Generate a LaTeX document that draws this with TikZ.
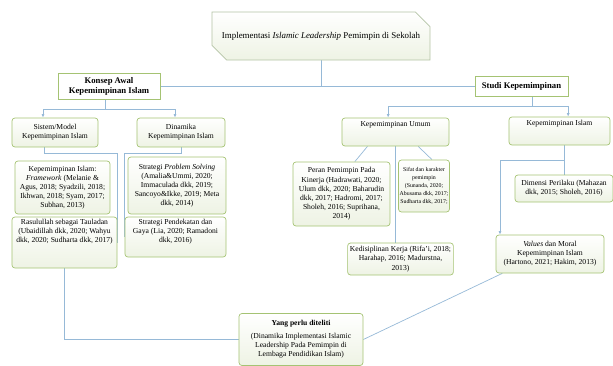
\documentclass[tikz,border=0pt]{standalone}
\usepackage{fontspec}
\setmainfont{Liberation Serif}
\usepackage{xcolor}
\usetikzlibrary{arrows.meta,shapes.misc,backgrounds,calc}
\definecolor{hijau}{RGB}{165,195,115}
\definecolor{isihijau}{RGB}{238,243,228}
\definecolor{abuhijau}{RGB}{180,195,165}
\definecolor{birugaris}{RGB}{150,185,215}
\newcommand{\atas}[3]{\parbox[c][#1][t]{#2}{\centering #3}}
\begin{document}
\begin{tikzpicture}[x=0.03cm,y=-0.03cm]
        \tikzset{kotak/.style={draw=hijau,line width=0.6pt,rounded corners=2.5pt,
                top color=white,bottom color=isihijau,align=center,inner sep=2pt,
                font=\fontsize{6.5}{7.8}\selectfont},
            judul/.style={draw=hijau,line width=0.6pt,fill=white,align=center,
                font=\fontsize{7.4}{8.6}\selectfont\bfseries},
            garis/.style={draw=birugaris,line width=0.6pt},
            panah/.style={garis,-{Latex[length=3pt,width=2.6pt]}}}
        \useasboundingbox (0,0) rectangle (613,366);
        \node[kotak,sharp corners,draw=abuhijau,chamfered rectangle,
            chamfered rectangle corners={north east,south west},
            chamfered rectangle xsep=0.25cm,chamfered rectangle ysep=0.25cm,
            minimum width=6.54cm,minimum height=1.44cm,
            font=\fontsize{7.6}{9}\selectfont] (utama) at (321,36)
            {Implementasi \textit{Islamic Leadership} Pemimpin di Sekolah};
        \node[judul,minimum width=3.06cm,minimum height=0.75cm] (konsep) at (109,86)
            {Konsep Awal\\Kepemimpinan Islam};
        \node[judul,minimum width=2.79cm,minimum height=0.6cm] (studi) at (521.5,86)
            {Studi Kepemimpinan};
        \node[kotak,minimum width=2.58cm,minimum height=0.87cm] (sistem) at (55,132.5)
            {Sistem/Model\\Kepemimpinan Islam};
        \node[kotak,minimum width=2.64cm,minimum height=0.87cm] (dinamika) at (181,132.5)
            {Dinamika\\Kepemimpinan Islam};
        \node[kotak] (umum) at (395.5,132)
            {\atas{0.70cm}{3.07cm}{\vspace{1pt}Kepemimpinan Umum}};
        \node[kotak] (islam) at (559.5,131)
            {\atas{0.70cm}{2.89cm}{\vspace{1pt}Kepemimpinan Islam}};
        \node[kotak,minimum width=2.85cm,minimum height=1.59cm] (framework) at (62.5,187.5)
            {Kepemimpinan Islam:\\\textit{Framework} (Melanie \&\\Agus, 2018; Syadzili, 2018;\\Ikhwan, 2018; Syam, 2017;\\Subhan, 2013)};
        \node[kotak] (rasul) at (64.5,242.5)
            {\atas{1.39cm}{3.01cm}{Rasulullah sebagai Tauladan\\(Ubaidillah dkk, 2020; Wahyu\\dkk, 2020; Sudharta dkk, 2017)}};
        \node[kotak,minimum width=2.94cm,minimum height=1.71cm] (problem) at (177,185.5)
            {Strategi \textit{Problem Solving}\\(Amalia\&Ummi, 2020;\\Immaculada dkk, 2019;\\Sancoyo\&Ikke, 2019; Meta\\dkk, 2014)};
        \node[kotak] (pendekatan) at (175.5,237)
            {\atas{1.06cm}{2.89cm}{Strategi Pendekatan dan\\Gaya (Lia, 2020; Ramadoni\\dkk, 2016)}};
        \node[kotak,minimum width=2.91cm,minimum height=1.92cm] (peran) at (341.5,194)
            {Peran Pemimpin Pada\\Kinerja (Hadrawati, 2020;\\Ulum dkk, 2020; Baharudin\\dkk, 2017; Hadromi, 2017;\\Sholeh, 2016; Suprihana,\\2014)};
        \node[kotak,minimum width=1.47cm,minimum height=1.56cm,inner sep=1pt,
            font=\fontsize{5}{6.8}\selectfont] (sifat) at (424,186)
            {Sifat dan karakter\\pemimpin\\(Sunanda, 2020;\\Abusama dkk, 2017;\\Sudharta dkk, 2017;};
        \node[kotak,minimum width=3.15cm,minimum height=0.96cm] (disiplin) at (400.5,259)
            {Kedisiplinan Kerja (Rifa'i, 2018;\\Harahap, 2016; Madurstna,\\2013)};
        \node[kotak,minimum width=2.94cm,minimum height=0.81cm] (dimensi) at (564,188.5)
            {Dimensi Perilaku (Mahazan\\dkk, 2015; Sholeh, 2016)};
        \node[kotak,minimum width=3.24cm,minimum height=1.14cm] (values) at (550,254)
            {\textit{Values} dan Moral\\Kepemimpinan Islam\\(Hartono, 2021; Hakim, 2013)};
        \node[kotak,minimum width=3.72cm,minimum height=1.56cm] (teliti) at (301,339.5)
            {\textbf{Yang perlu diteliti}\\[3pt](Dinamika Implementasi Islamic\\Leadership Pada Pemimpin di\\Lembaga Pendidikan Islam)};
        \begin{scope}[on background layer]
            \draw[garis] (utama.south) -- (utama.south |- konsep.east);
            \draw[garis] (konsep.east) -- (studi.west);
            \draw[garis] ([xshift=-0.12cm]konsep.south) -- ++(0,10) coordinate (k1);
            \draw[panah] (k1) -| ([xshift=-0.36cm]sistem.north);
            \draw[panah] (k1) -| ([xshift=-0.18cm]dinamika.north);
            \draw[garis] ([xshift=0.32cm]studi.south) -- ++(0,10) coordinate (s1);
            \draw[panah] (s1) -| ([xshift=-0.22cm]umum.north);
            \draw[panah] (s1) -| ([xshift=0.26cm]islam.north);
            \draw[garis] ([xshift=-0.33cm]sistem.south) -- ++(0,6) -| (rasul.east);
            \draw[garis] (dinamika.south) -- ++(0,6) -| (pendekatan.west);
            \draw[garis] (rasul.south) |- (teliti.west);
            \draw[garis] ([xshift=-0.84cm]umum.south) -- ([xshift=0.4cm]peran.north);
            \draw[garis] ([xshift=0.68cm]umum.south) -- ([xshift=0.24cm]sifat.north);
            \draw[garis] (umum.south) -- (umum.south |- disiplin.north);
            \draw[garis] (dimensi.north |- islam.south) -- (dimensi.north);
            \coordinate (i1) at ($(dimensi.north |- islam.south)+(0,15)$);
            \draw[panah] (i1) -| ([xshift=-1.5cm]values.north);
            \draw[garis] ([xshift=0.2cm]values.south west) -- (teliti.east);
        \end{scope}
    \end{tikzpicture}
\end{document}
